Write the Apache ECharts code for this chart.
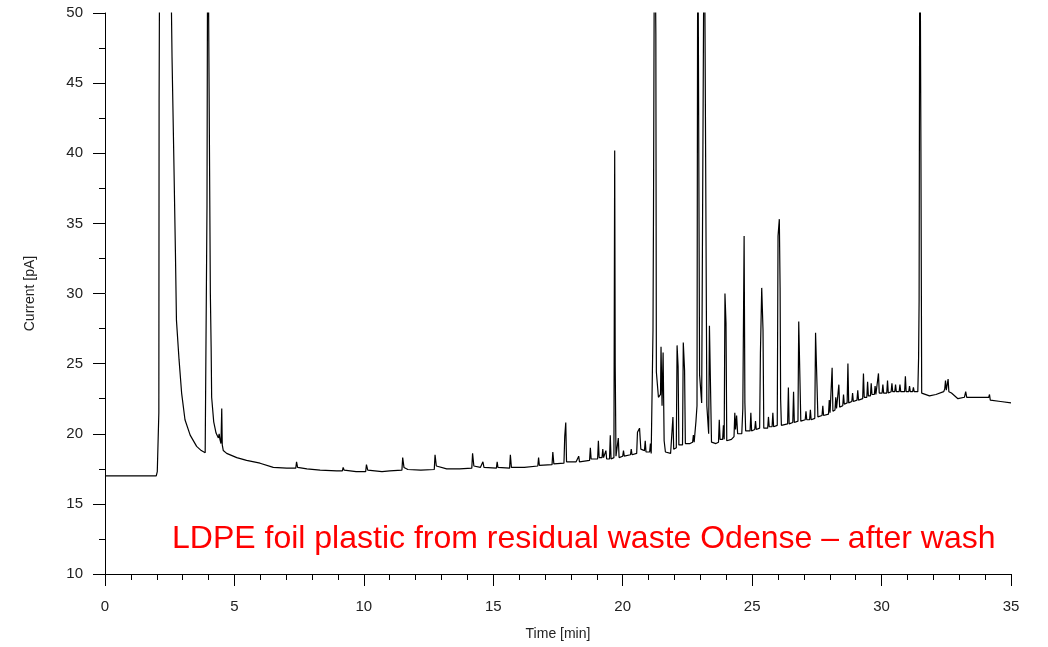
<!DOCTYPE html>
<html>
<head>
<meta charset="utf-8">
<script src="https://cdn.jsdelivr.net/npm/echarts@6/dist/echarts.min.js"></script>
<style>
html,body{margin:0;padding:0;background:#fff;}
#chart{width:1048px;height:647px;}
</style>
</head>
<body>
<div id="chart"></div>
<script>
// [retention time (min), detector current (pA)].
// Values above 50 pA are off-scale peaks (clipped at the top of the plot).
var solventRegion = [
  [0,17.0],[1.98,17.0],[2.02,17.3],[2.06,17.4],[2.08,21.5],[2.09,43.7],[2.12,60],[2.5,60],[2.57,60],
  [2.59,46.8],[2.66,39.5],[2.72,33.0],[2.76,28.1],[2.86,25.3],[2.96,22.9],[3.09,21.0],[3.29,19.9],
  [3.54,19.1],[3.72,18.8],[3.87,18.65],[3.9,18.7],[3.94,36.2],[3.97,60],[4.04,60],[4.07,30],[4.1,26.2],
  [4.12,22.6],[4.2,20.85],[4.29,20.05],[4.38,19.7],[4.41,20.0],[4.44,19.6],[4.48,19.3],[4.51,21.8],
  [4.53,19.2],[4.57,18.8],[4.7,18.6]
];
var baselineRegion = [
  [5.09,18.3],[5.47,18.1],[5.99,17.9],[6.5,17.6],[7.02,17.55],[7.37,17.55],[7.4,18.0],[7.44,17.6],
  [7.8,17.5],[8.31,17.4],[8.95,17.35],[9.17,17.35],[9.2,17.6],[9.24,17.4],[9.7,17.3],[10.07,17.3],
  [10.1,17.8],[10.15,17.4],[10.7,17.3],[11.0,17.35],[11.47,17.4],[11.5,18.3],[11.55,17.6],[11.7,17.45],
  [12.2,17.4],[12.72,17.45],[12.75,18.5],[12.8,17.7],[13.2,17.5],[13.7,17.5],[14.17,17.55],[14.2,18.6],
  [14.25,17.7],[14.5,17.6],[14.57,17.6],[14.6,18.0],[14.64,17.6],[15.12,17.55],[15.15,18.0],[15.18,17.6],
  [15.63,17.55],[15.66,18.5],[15.7,17.6],[16.2,17.6],[16.72,17.7],[16.75,18.3],[16.78,17.75]
];
var elutionRegion = [
  [17.27,17.8],[17.3,18.7],[17.34,17.85],[17.73,17.9],[17.76,19.8],[17.8,20.8],[17.83,18.0],[18.2,18.0],
  [18.27,18.0],[18.3,18.4],[18.33,18.0],[18.72,18.1],[18.75,19.0],[18.78,18.2],[19.03,18.2],[19.06,19.5],
  [19.09,18.3],[19.2,18.3],[19.23,18.9],[19.26,18.3],[19.35,18.8],[19.38,18.2],[19.49,18.2],[19.52,19.9],
  [19.55,18.2],[19.66,18.3],[19.69,40.2],[19.71,24.9],[19.74,18.4],[19.8,18.4],[19.83,19.7],[19.86,18.3],
  [20.0,18.4],[20.03,18.8],[20.06,18.4],[20.3,18.5],[20.33,18.9],[20.36,18.5],[20.54,18.6],[20.57,20.1],
  [20.65,20.4],[20.7,18.9],[20.84,18.8],[20.87,19.5],[20.9,18.7],[21.04,18.7],[21.07,19.3],[21.1,18.6],
  [21.15,18.6],[21.17,27.4],[21.19,36.2],[21.23,60],[21.28,48.5],[21.3,24.4],[21.38,22.6],[21.46,22.8],
  [21.48,26.2],[21.52,22.0],[21.56,25.8],[21.6,19.5],[21.65,18.7],[21.85,18.6],[21.91,18.7],[21.94,21.2],
  [21.97,18.9],[22.07,19.0],[22.1,26.3],[22.14,24.8],[22.17,19.2],[22.31,19.2],[22.34,26.5],[22.39,24.5],
  [22.42,19.3],[22.6,19.3],[22.7,19.4],[22.73,19.9],[22.76,19.4],[22.8,19.5],[22.83,20.9],[22.87,22.0],
  [22.9,60],[22.95,60],[22.97,24.2],[23.05,22.2],[23.12,22.2],[23.15,60],[23.22,60],[23.25,22.0],
  [23.32,20.0],[23.35,27.7],[23.4,27.6],[23.43,19.4],[23.6,19.3],[23.7,19.4],[23.73,21.0],[23.76,19.6],
  [23.86,19.6],[23.89,20.6],[23.92,19.6],[23.95,30.0],[23.99,27.9],[24.02,19.5],[24.2,19.6],[24.3,19.8],
  [24.33,21.5],[24.36,20.3],[24.4,21.3],[24.44,20.0],[24.6,20.0],[24.64,21.8],[24.69,34.1],[24.72,22.2],
  [24.75,20.2],[24.92,20.2],[24.95,21.5],[24.98,20.2],[25.1,20.3],[25.13,20.9],[25.16,20.3],[25.29,20.4],
  [25.32,25.8],[25.37,30.4],[25.42,27.4],[25.45,20.4],[25.6,20.4],[25.63,21.2],[25.66,20.5],[25.77,20.5],
  [25.8,21.5],[25.83,20.5],[25.97,20.6],[26.0,34.1],[26.05,35.3],[26.08,30.4],[26.1,22.5],[26.13,20.6],
  [26.37,20.7],[26.4,23.3],[26.43,20.7],[26.57,20.8],[26.6,23.0],[26.63,20.8],[26.77,20.9],[26.8,28.0],
  [26.85,27.9],[26.88,20.9],[27.05,21.0],[27.08,21.6],[27.11,21.0],[27.22,21.0],[27.25,21.7],[27.28,21.0],
  [27.42,21.1],[27.45,27.2],[27.51,27.1],[27.54,21.2],[27.7,21.3],[27.73,22.0],[27.76,21.3],[27.95,21.4],
  [27.98,22.4],[28.01,21.5],[28.06,21.5],[28.09,24.7],[28.12,21.6],[28.2,21.7],[28.23,22.6],[28.26,21.8],
  [28.32,21.8],[28.35,23.5],[28.38,21.9],[28.5,22.0],[28.53,22.8],[28.56,22.1],[28.67,22.2],[28.7,25.0],
  [28.73,22.2],[28.85,22.3],[28.88,22.9],[28.91,22.3],[29.05,22.4],[29.08,23.1],[29.11,22.4],[29.27,22.5],
  [29.3,24.3],[29.33,22.6],[29.43,22.6],[29.46,23.7],[29.49,22.7],[29.57,22.7],[29.6,23.6],[29.63,22.8],
  [29.72,22.8],[29.75,23.4],[29.78,22.8],[29.85,22.9],[29.88,24.3],[29.91,22.9],[30.02,22.9],[30.05,23.5],
  [30.08,22.9],[30.2,22.9],[30.23,23.8],[30.26,22.9],[30.37,23.0],[30.4,23.6],[30.43,23.0],[30.51,23.0],
  [30.54,23.5],[30.57,23.0],[30.68,23.0],[30.71,23.5],[30.74,23.0],[30.89,23.0],[30.92,24.1],[30.95,23.0],
  [31.05,23.0],[31.08,23.4],[31.11,23.0],[31.2,23.0],[31.23,23.3],[31.26,23.0],[31.4,23.0],[31.43,25.4],
  [31.45,29.5],[31.48,60],[31.52,40.2],[31.55,22.9]
];
var tailRegion = [
  [31.85,22.7],[32.1,22.8],[32.4,23.0],[32.44,23.2],[32.47,23.8],[32.5,23.1],[32.54,23.2],[32.57,23.9],
  [32.6,23.0],[32.7,22.9],[32.95,22.5],[33.2,22.6],[33.25,23.0],[33.29,22.6],[33.6,22.6],[34.14,22.6],
  [34.17,22.8],[34.2,22.4],[34.6,22.3],[35.0,22.2]
];
var xTicks = [0, 5, 10, 15, 20, 25, 30, 35];
var yTicks = [10, 15, 20, 25, 30, 35, 40, 45, 50];
var titleText = 'LDPE foil plastic from residual waste Odense \u2013 after wash';

var seriesData = solventRegion.concat(baselineRegion, elutionRegion, tailRegion);

var FONT = "'Liberation Sans', Arial, sans-serif";
var chart = echarts.init(document.getElementById('chart'), null, { renderer: 'canvas' });
chart.setOption({
  animation: false,
  backgroundColor: '#ffffff',
  title: {
    text: titleText,
    left: 167,
    top: 518,
    textStyle: { color: '#ff0000', fontSize: 32, fontWeight: 'normal', fontFamily: FONT }
  },
  grid: { left: 105, right: 37, top: 13, bottom: 73 },
  xAxis: {
    type: 'value',
    min: xTicks[0],
    max: xTicks[xTicks.length - 1],
    interval: xTicks[1] - xTicks[0],
    name: 'Time [min]',
    nameLocation: 'middle',
    nameGap: 53,
    nameTextStyle: { color: '#222', fontSize: 14, fontFamily: FONT },
    axisLine: { show: true, onZero: false, lineStyle: { color: '#000', width: 1 } },
    axisTick: { show: true, length: 12, lineStyle: { color: '#000' } },
    minorTick: { show: true, splitNumber: 5, length: 6, lineStyle: { color: '#000' } },
    axisLabel: { color: '#222', fontSize: 15, fontFamily: FONT, margin: 25 },
    splitLine: { show: false }
  },
  yAxis: {
    type: 'value',
    min: yTicks[0],
    max: yTicks[yTicks.length - 1],
    interval: yTicks[1] - yTicks[0],
    name: 'Current [pA]',
    nameLocation: 'middle',
    nameGap: 68,
    nameTextStyle: { color: '#222', fontSize: 14, fontFamily: FONT },
    axisLine: { show: true, onZero: false, lineStyle: { color: '#000', width: 1 } },
    axisTick: { show: true, length: 12, lineStyle: { color: '#000' } },
    minorTick: { show: true, splitNumber: 2, length: 6, lineStyle: { color: '#000' } },
    axisLabel: { color: '#222', fontSize: 15, fontFamily: FONT, margin: 22 },
    splitLine: { show: false }
  },
  series: [{
    type: 'line',
    data: seriesData,
    showSymbol: false,
    symbol: 'none',
    clip: true,
    lineStyle: { color: '#000', width: 1.2 },
    emphasis: { disabled: true }
  }]
});
</script>
</body>
</html>
